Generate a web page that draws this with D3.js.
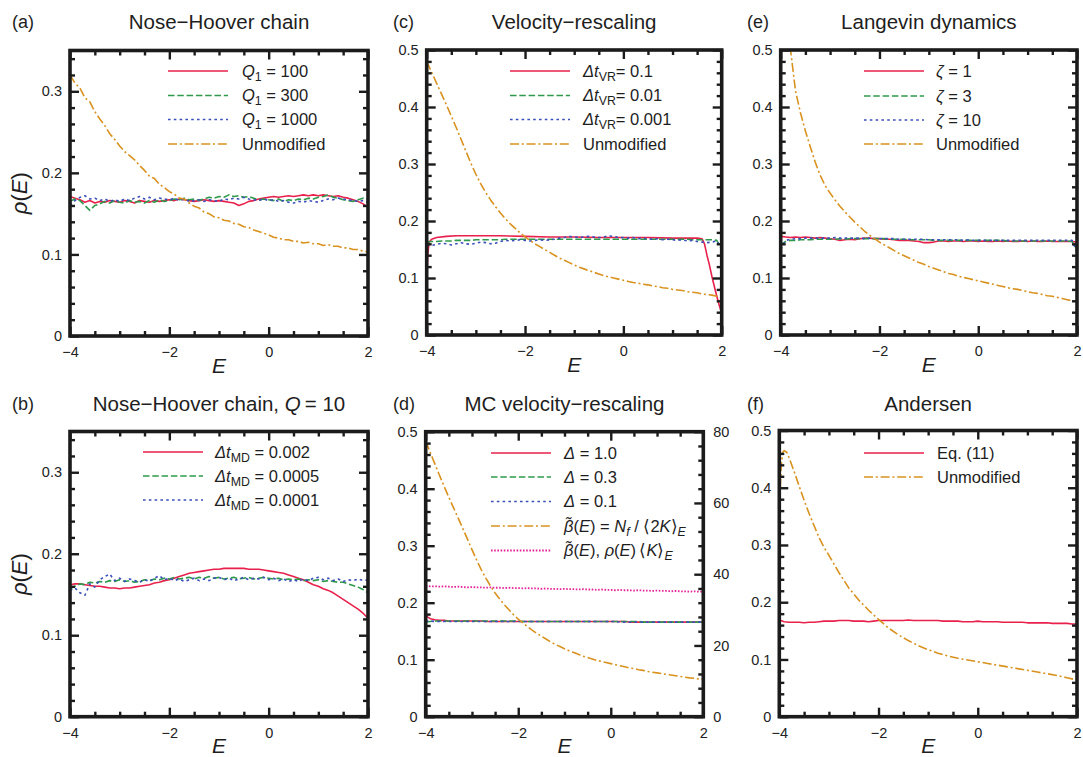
<!DOCTYPE html>
<html>
<head>
<meta charset="utf-8">
<script src="https://cdn.jsdelivr.net/npm/d3@7"></script>
<style>
  html, body { margin: 0; padding: 0; background: #fff; }
  svg { display: block; font-family: "Liberation Sans", Arial, Helvetica, sans-serif; }
</style>
</head>
<body>
<script>
// ---------- energy grid and tick values ----------
const E_GRID = [-4.0,-3.9,-3.8,-3.7,-3.6,-3.5,-3.4,-3.3,-3.2,-3.1,
  -3.0,-2.9,-2.8,-2.7,-2.6,-2.5,-2.4,-2.3,-2.2,-2.1,
  -2.0,-1.9,-1.8,-1.7,-1.6,-1.5,-1.4,-1.3,-1.2,-1.1,
  -1.0,-0.9,-0.8,-0.7,-0.6,-0.5,-0.4,-0.3,-0.2,-0.1,
  0.0,0.1,0.2,0.3,0.4,0.5,0.6,0.7,0.8,0.9,
  1.0,1.1,1.2,1.3,1.4,1.5,1.6,1.7,1.8,1.9,2.0];

const X_MAJOR = [-4, -2, 0, 2];
const X_MINOR = [-3.5, -3, -2.5, -1.5, -1, -0.5, 0.5, 1, 1.5];
const Y_MAJOR_35 = [0, 0.1, 0.2, 0.3];
const Y_MAJOR_50 = [0, 0.1, 0.2, 0.3, 0.4, 0.5];
const Y_MINOR_35 = [0.02,0.04,0.06,0.08,0.12,0.14,0.16,0.18,0.22,0.24,0.26,0.28,0.32,0.34];
const Y_MINOR_50 = [0.02,0.04,0.06,0.08,0.12,0.14,0.16,0.18,0.22,0.24,0.26,0.28,0.32,0.34,0.36,0.38,0.42,0.44,0.46,0.48];
const Y2_MAJOR = [0, 20, 40, 60, 80];
const Y2_MINOR = [4,8,12,16,24,28,32,36,44,48,52,56,64,68,72,76];

// ---------- (a) Nose-Hoover chain ----------
const A_Q100 = [.171,.169,.167,.164,.166,.163,.165,.164,.166,.165,
  .164,.166,.165,.163,.166,.165,.164,.166,.165,.166,
  .167,.166,.168,.167,.166,.165,.166,.167,.166,.165,
  .166,.165,.164,.163,.160,.162,.165,.166,.168,.169,
  .170,.171,.170,.171,.172,.171,.172,.173,.172,.173,
  .172,.173,.172,.171,.172,.170,.169,.167,.165,.162,.158];
const A_Q300 = [.165,.168,.166,.160,.154,.160,.162,.165,.163,.166,
  .164,.163,.166,.164,.165,.163,.166,.164,.167,.165,
  .166,.168,.167,.169,.167,.168,.166,.168,.170,.169,
  .171,.170,.173,.171,.172,.170,.171,.169,.167,.168,
  .167,.166,.168,.165,.167,.166,.168,.167,.169,.168,
  .170,.171,.173,.170,.169,.167,.166,.165,.167,.169,.168];
const A_Q1000 = [.160,.166,.170,.172,.168,.169,.166,.168,.165,.167,
  .165,.168,.166,.169,.171,.168,.170,.167,.169,.168,
  .167,.169,.166,.168,.165,.166,.167,.165,.167,.166,
  .165,.168,.167,.169,.168,.170,.168,.167,.166,.168,
  .166,.167,.165,.166,.164,.163,.165,.164,.166,.165,
  .164,.166,.168,.167,.169,.168,.167,.166,.165,.166,.164];
const A_UNMOD = [.320,.310,.304,.292,.287,.275,.266,.258,.248,.241,
  .233,.226,.221,.216,.209,.203,.196,.193,.186,.182,
  .177,.174,.169,.168,.163,.159,.157,.152,.150,.146,
  .145,.142,.141,.138,.137,.134,.133,.130,.128,.126,
  .124,.121,.120,.118,.118,.116,.116,.114,.115,.113,
  .113,.111,.112,.110,.110,.108,.108,.106,.106,.104,.103];

// ---------- (b) Nose-Hoover chain, Q = 10 ----------
const B_MD002 = [.162,.163,.163,.162,.161,.160,.160,.159,.158,.158,
  .157,.158,.158,.159,.160,.161,.162,.164,.165,.167,
  .168,.170,.172,.174,.176,.177,.178,.179,.180,.181,
  .181,.182,.182,.182,.182,.182,.181,.181,.181,.180,
  .179,.178,.177,.176,.174,.172,.170,.168,.165,.162,
  .160,.157,.155,.152,.148,.144,.140,.136,.132,.127,.121];
const B_MD0005 = [.157,.160,.163,.162,.165,.164,.166,.165,.167,.166,
  .168,.166,.167,.165,.166,.168,.167,.169,.168,.170,
  .169,.171,.169,.170,.171,.169,.171,.170,.172,.170,
  .171,.169,.170,.171,.169,.170,.171,.169,.170,.171,
  .170,.169,.170,.168,.169,.168,.169,.167,.168,.167,
  .168,.166,.167,.166,.165,.165,.163,.161,.159,.156,.152];
const B_MD0001 = [.155,.158,.152,.149,.163,.159,.168,.172,.175,.167,
  .170,.166,.169,.167,.165,.168,.166,.170,.173,.168,
  .170,.167,.169,.166,.168,.170,.167,.169,.167,.170,
  .171,.168,.170,.167,.169,.171,.168,.170,.169,.171,
  .168,.170,.167,.169,.166,.168,.166,.169,.167,.170,
  .171,.168,.170,.167,.169,.166,.168,.167,.169,.167,.168];

// ---------- (c) Velocity-rescaling ----------
const C_VR01_E = [-4.0,-3.98,-3.95,-3.9,-3.8,-3.6,-3.4,-3.2,-3.0,-2.5,-2.0,-1.5,-1.0,-0.5,
  0.0,0.5,1.0,1.5,1.6,1.65,1.7,1.75,1.8,1.85,1.9,1.95,2.0];
const C_VR01 = [.090,.140,.163,.168,.171,.173,.174,.174,.174,.174,.173,.172,.172,.171,
  .171,.171,.170,.170,.169,.160,.140,.123,.103,.085,.068,.052,.038];
const C_VR001 = [.163,.164,.164,.165,.165,.165,.166,.166,.166,.166,
  .167,.167,.167,.167,.167,.167,.168,.168,.168,.168,
  .168,.168,.168,.168,.168,.168,.168,.168,.168,.168,
  .168,.168,.168,.168,.168,.168,.168,.168,.168,.168,
  .168,.168,.168,.168,.168,.168,.168,.168,.168,.168,
  .168,.168,.168,.168,.167,.167,.167,.167,.167,.166,.150];
const C_VR0001 = [.158,.157,.159,.161,.160,.158,.160,.162,.160,.159,
  .161,.163,.162,.160,.161,.164,.166,.165,.166,.167,
  .166,.165,.166,.167,.166,.167,.168,.170,.171,.173,
  .172,.171,.172,.173,.172,.171,.172,.174,.173,.171,
  .171,.170,.171,.169,.170,.169,.168,.169,.167,.168,
  .167,.166,.167,.165,.166,.164,.163,.162,.163,.165,.150];
const C_UNMOD = [.480,.461,.442,.423,.404,.384,.364,.343,.322,.301,
  .282,.265,.250,.237,.225,.214,.204,.195,.187,.179,
  .172,.166,.160,.155,.150,.145,.140,.135,.131,.127,
  .123,.119,.116,.113,.110,.107,.104,.102,.100,.098,
  .096,.094,.092,.091,.089,.088,.086,.085,.083,.082,
  .080,.079,.078,.076,.075,.074,.072,.071,.070,.068,.067];

// ---------- (d) MC velocity-rescaling (beta curves on the right axis) ----------
const D_D10 = [.177,.172,.170,.169,.169,.168,.168,.168,.168,.168,
  .168,.168,.168,.167,.167,.167,.167,.167,.167,.167,
  .167,.167,.167,.167,.167,.167,.167,.167,.167,.167,
  .167,.167,.167,.167,.167,.167,.167,.167,.167,.167,
  .167,.167,.167,.167,.166,.166,.166,.166,.166,.166,
  .166,.166,.166,.166,.166,.166,.166,.166,.166,.166,.166];
const D_D03 = [.166,.167,.168,.168,.168,.168,.168,.168,.168,.168,
  .168,.168,.168,.168,.168,.168,.168,.168,.168,.168,
  .168,.167,.167,.167,.167,.167,.167,.167,.167,.167,
  .167,.167,.167,.167,.167,.167,.167,.167,.167,.167,
  .167,.167,.167,.167,.167,.167,.167,.166,.166,.166,
  .166,.166,.166,.166,.166,.166,.166,.166,.166,.166,.166];
const D_D01 = [.168,.168,.167,.167,.167,.167,.167,.167,.167,.167,
  .167,.167,.167,.167,.167,.167,.167,.167,.167,.167,
  .167,.167,.167,.167,.167,.167,.167,.167,.167,.167,
  .167,.167,.167,.167,.167,.167,.167,.167,.167,.167,
  .167,.167,.166,.166,.166,.166,.166,.166,.166,.166,
  .166,.166,.166,.166,.166,.166,.166,.166,.166,.166,.166];
const D_BETA = [77.4,74.1,70.9,67.7,64.6,61.6,58.7,55.8,52.9,49.9,
  46.9,44.0,41.3,38.9,36.7,34.7,33.0,31.4,30.0,28.6,
  27.4,26.3,25.3,24.3,23.4,22.6,21.8,21.0,20.3,19.7,
  19.1,18.5,18.0,17.5,17.0,16.6,16.2,15.8,15.5,15.2,
  14.9,14.6,14.3,14.0,13.7,13.5,13.2,13.0,12.7,12.5,
  12.3,12.1,11.9,11.7,11.5,11.3,11.1,10.9,10.8,10.6,10.5];
const D_RHOK = [36.7,36.6,36.6,36.5,36.6,36.5,36.4,36.5,36.4,36.3,
  36.4,36.3,36.3,36.2,36.3,36.2,36.2,36.1,36.2,36.1,
  36.1,36.0,36.1,36.0,36.0,35.9,36.0,35.9,35.9,35.8,
  35.9,35.8,35.8,35.7,35.8,35.7,35.7,35.6,35.7,35.6,
  35.6,35.5,35.6,35.5,35.5,35.4,35.5,35.4,35.4,35.3,
  35.4,35.3,35.3,35.2,35.3,35.2,35.2,35.1,35.2,35.1,35.1];

// ---------- (e) Langevin dynamics ----------
const E_Z1 = [.173,.172,.171,.172,.171,.172,.171,.170,.171,.170,
  .169,.168,.166,.167,.168,.167,.169,.170,.170,.169,
  .169,.168,.168,.167,.166,.166,.166,.165,.164,.162,
  .162,.163,.165,.165,.164,.165,.165,.164,.165,.165,
  .164,.165,.164,.164,.165,.164,.165,.164,.164,.165,
  .164,.165,.164,.164,.165,.164,.164,.164,.164,.164,.163];
const E_Z3 = [.158,.164,.166,.166,.167,.167,.167,.168,.168,.168,
  .168,.168,.169,.168,.169,.169,.169,.169,.169,.169,
  .169,.169,.168,.168,.168,.168,.167,.167,.167,.167,
  .167,.166,.166,.166,.166,.166,.166,.166,.166,.166,
  .166,.166,.166,.166,.166,.166,.165,.165,.165,.165,
  .165,.165,.165,.165,.165,.165,.165,.165,.165,.164,.150];
const E_Z10 = [.150,.166,.168,.169,.169,.170,.170,.170,.170,.170,
  .170,.171,.170,.170,.170,.170,.170,.169,.170,.169,
  .169,.169,.169,.169,.168,.168,.168,.168,.168,.168,
  .167,.167,.167,.167,.167,.167,.167,.166,.167,.166,
  .166,.166,.166,.166,.166,.166,.166,.166,.166,.166,
  .166,.166,.166,.166,.166,.166,.166,.166,.166,.166,.145];
const E_UNMOD = [.680,.580,.500,.428,.390,.358,.330,.303,.280,.262,
  .249,.237,.226,.216,.207,.198,.190,.182,.175,.169,
  .163,.158,.153,.148,.143,.139,.135,.131,.127,.124,
  .120,.117,.114,.111,.108,.106,.103,.101,.099,.097,
  .095,.093,.091,.089,.087,.085,.083,.081,.080,.078,
  .076,.074,.073,.071,.069,.068,.066,.064,.062,.060,.058];

// ---------- (f) Andersen ----------
const F_EQ11 = [.169,.166,.165,.165,.165,.164,.165,.165,.166,.167,
  .167,.167,.168,.168,.168,.167,.167,.167,.166,.167,
  .168,.168,.168,.168,.168,.168,.169,.168,.168,.168,
  .168,.168,.168,.167,.167,.167,.167,.166,.166,.166,
  .167,.166,.166,.166,.166,.165,.165,.165,.165,.165,
  .164,.164,.164,.164,.164,.163,.163,.163,.163,.162,.162];
const F_UNMOD_E = [-3.98,-3.96,-3.93,-3.9,-3.85,-3.8,-3.7,-3.6,-3.5,-3.4,-3.3,-3.2,-3.1,-3.0,
  -2.8,-2.6,-2.4,-2.2,-2.0,-1.8,-1.6,-1.4,-1.2,-1.0,-0.8,-0.6,-0.4,-0.2,
  0.0,0.2,0.4,0.6,0.8,1.0,1.2,1.4,1.6,1.8,2.0];
const F_UNMOD = [.400,.440,.462,.465,.462,.452,.428,.403,.378,.355,.334,.313,.296,.282,
  .252,.225,.204,.186,.170,.155,.143,.133,.124,.117,.111,.106,.102,.099,
  .096,.093,.090,.087,.084,.081,.078,.075,.072,.068,.064];

// ---------- legend texts: [text, style] segments ----------
const A_LABELS = [
  [["Q","i"],["1","sub"],[" = 100",""]],
  [["Q","i"],["1","sub"],[" = 300",""]],
  [["Q","i"],["1","sub"],[" = 1000",""]],
  [["Unmodified",""]]];
const B_LABELS = [
  [["\u0394t","i"],["MD","sub"],[" = 0.002",""]],
  [["\u0394t","i"],["MD","sub"],[" = 0.0005",""]],
  [["\u0394t","i"],["MD","sub"],[" = 0.0001",""]]];
const C_LABELS = [
  [["\u0394t","i"],["VR","sub"],["= 0.1",""]],
  [["\u0394t","i"],["VR","sub"],["= 0.01",""]],
  [["\u0394t","i"],["VR","sub"],["= 0.001",""]],
  [["Unmodified",""]]];
const D_LABELS = [
  [["\u0394","i"],[" = 1.0",""]],
  [["\u0394","i"],[" = 0.3",""]],
  [["\u0394","i"],[" = 0.1",""]],
  [["\u03B2\u0303","i"],["(",""],["E","i"],[") = ",""],["N","i"],["f","subi"],[" / \u27E82",""],["K","i"],["\u27E9",""],["E","subi"]],
  [["\u03B2\u0303","i"],["(",""],["E","i"],["), ",""],["\u03C1","i"],["(",""],["E","i"],[")\u2009\u27E8",""],["K","i"],["\u27E9",""],["E","subi"]]];
const E_LABELS = [
  [["\u03B6","i"],[" = 1",""]],
  [["\u03B6","i"],[" = 3",""]],
  [["\u03B6","i"],[" = 10",""]],
  [["Unmodified",""]]];
const F_LABELS = [
  [["Eq. (11)",""]],
  [["Unmodified",""]]];

// ---------- styles ----------
const STYLES = {
  red:    { color: "#e8204b", dash: null },
  green:  { color: "#2f9a4c", dash: "6.5,2.8" },
  blue:   { color: "#3c4fb8", dash: "2.6,3.2" },
  orange: { color: "#d8921f", dash: "9,2.8,2,2.8" },
  pink:   { color: "#e4239a", dash: "1.6,1.6" }
};

const W = 1083, H = 757;
const svg = d3.select("body").append("svg").attr("width", W).attr("height", H);
const INK = "#1b1b1b";

function richText(sel, segments, size) {
  let shift = 0;
  segments.forEach(([txt, st]) => {
    const sub = st === "sub" || st === "subi";
    const target = sub ? size * 0.27 : 0;
    sel.append("tspan").text(txt)
      .attr("dy", (target - shift).toFixed(2))
      .attr("font-size", sub ? size * 0.75 : size)
      .attr("font-style", (st === "i" || st === "subi") ? "italic" : "normal");
    shift = target;
  });
}

function drawPanel(p) {
  const x = d3.scaleLinear().domain([-4, 2]).range([p.left, p.right]);
  const y = d3.scaleLinear().domain([0, p.yMax]).range([p.bottom, p.top]);
  const y2 = p.right2 ? d3.scaleLinear().domain([0, 80]).range([p.bottom, p.top]) : null;
  const g = svg.append("g");

  const clipId = "clip-" + p.id;
  svg.append("clipPath").attr("id", clipId).append("rect")
    .attr("x", p.left).attr("y", p.top)
    .attr("width", p.right - p.left).attr("height", p.bottom - p.top);

  // data curves
  const lines = g.append("g").attr("clip-path", `url(#${clipId})`);
  p.series.forEach(s => {
    const sc = s.axis2 ? y2 : y;
    const st = STYLES[s.style];
    const pts = s.e.map((e, i) => [e, s.v[i]]);
    lines.append("path").datum(pts)
      .attr("d", d3.line().x(d => x(d[0])).y(d => sc(d[1])))
      .attr("fill", "none")
      .attr("stroke", st.color)
      .attr("stroke-width", s.style === "pink" ? 1.8 : 1.6)
      .attr("stroke-linejoin", "round")
      .attr("stroke-dasharray", st.dash);
  });

  // ticks (inward on all four sides)
  const tickStyle = sel => {
    sel.select(".domain").remove();
    sel.selectAll(".tick line").attr("stroke", INK).attr("stroke-width", 2.4);
    sel.selectAll(".tick text").attr("fill", "#222").attr("font-size", 14.5)
      .attr("font-family", "Liberation Sans, Arial, sans-serif");
  };
  const fmtX = d => (d < 0 ? "\u2212" + Math.abs(d) : String(d));
  const fmtY = d => (d === 0 ? "0" : d3.format(".1f")(d));

  g.append("g").attr("transform", `translate(0,${p.bottom})`)
    .call(d3.axisBottom(x).tickValues(X_MAJOR).tickSize(-9).tickPadding(11).tickFormat(fmtX)).call(tickStyle);
  g.append("g").attr("transform", `translate(0,${p.bottom})`)
    .call(d3.axisBottom(x).tickValues(X_MINOR).tickSize(-5).tickFormat("")).call(tickStyle);
  g.append("g").attr("transform", `translate(0,${p.top})`)
    .call(d3.axisTop(x).tickValues(X_MAJOR).tickSize(-9).tickFormat("")).call(tickStyle);
  g.append("g").attr("transform", `translate(0,${p.top})`)
    .call(d3.axisTop(x).tickValues(X_MINOR).tickSize(-5).tickFormat("")).call(tickStyle);

  const yMaj = p.yMax > 0.4 ? Y_MAJOR_50 : Y_MAJOR_35;
  const yMin = p.yMax > 0.4 ? Y_MINOR_50 : Y_MINOR_35;
  g.append("g").attr("transform", `translate(${p.left},0)`)
    .call(d3.axisLeft(y).tickValues(yMaj).tickSize(-9).tickPadding(8).tickFormat(fmtY)).call(tickStyle);
  g.append("g").attr("transform", `translate(${p.left},0)`)
    .call(d3.axisLeft(y).tickValues(yMin).tickSize(-5).tickFormat("")).call(tickStyle);
  if (y2) {
    g.append("g").attr("transform", `translate(${p.right},0)`)
      .call(d3.axisRight(y2).tickValues(Y2_MAJOR).tickSize(-9).tickPadding(10).tickFormat(d3.format("d"))).call(tickStyle);
    g.append("g").attr("transform", `translate(${p.right},0)`)
      .call(d3.axisRight(y2).tickValues(Y2_MINOR).tickSize(-5).tickFormat("")).call(tickStyle);
  } else {
    g.append("g").attr("transform", `translate(${p.right},0)`)
      .call(d3.axisRight(y).tickValues(yMaj).tickSize(-9).tickFormat("")).call(tickStyle);
    g.append("g").attr("transform", `translate(${p.right},0)`)
      .call(d3.axisRight(y).tickValues(yMin).tickSize(-5).tickFormat("")).call(tickStyle);
  }

  // frame
  g.append("rect").attr("x", p.left).attr("y", p.top)
    .attr("width", p.right - p.left).attr("height", p.bottom - p.top)
    .attr("fill", "none").attr("stroke", INK).attr("stroke-width", 3.6);

  // legend
  p.series.forEach((s, i) => {
    const st = STYLES[s.style];
    const ly = p.legend.rows[i];
    g.append("line").attr("x1", p.legend.x1).attr("x2", p.legend.x1 + 60)
      .attr("y1", ly).attr("y2", ly)
      .attr("stroke", st.color).attr("stroke-width", s.style === "pink" ? 1.8 : 1.6)
      .attr("stroke-dasharray", st.dash);
    const t = g.append("text").attr("x", p.legend.tx).attr("y", ly + 5.5)
      .attr("fill", "#1e1e1e").attr("font-size", 16.5);
    richText(t, p.labels[i], 16.5);
  });

  // titles and axis names
  const cx = (p.left + p.right) / 2;
  const title = g.append("text").attr("x", cx).attr("y", p.titleY)
    .attr("text-anchor", "middle").attr("font-size", 20.5).attr("fill", "#1e1e1e");
  richText(title, p.title, 20.5);
  g.append("text").attr("x", p.tagX).attr("y", p.titleY - 1)
    .attr("font-size", 18).attr("fill", "#1e1e1e").text(p.tag);

  g.append("text").attr("x", cx).attr("y", p.bottom + 36.5)
    .attr("text-anchor", "middle").attr("font-size", 21)
    .attr("font-style", "italic").attr("fill", "#1e1e1e").text("E");

  if (p.yTitle) {
    const yt = g.append("text")
      .attr("transform", `translate(27,${(p.top + p.bottom) / 2}) rotate(-90)`)
      .attr("text-anchor", "middle").attr("dy", "0.35em")
      .attr("font-size", 22).attr("fill", "#1e1e1e");
    richText(yt, [["\u03C1","i"],["(",""],["E","i"],[")",""]], 22);
  }
}

const panels = [
  { id: "a", tag: "(a)", tagX: 12, titleY: 29, title: [["Nose\u2212Hoover chain",""]],
    left: 70, right: 368, top: 50.5, bottom: 336, yMax: 0.35, yTitle: true,
    series: [
      { e: E_GRID, v: A_Q100, style: "red" },
      { e: E_GRID, v: A_Q300, style: "green" },
      { e: E_GRID, v: A_Q1000, style: "blue" },
      { e: E_GRID, v: A_UNMOD, style: "orange" }],
    labels: A_LABELS, legend: { x1: 168, tx: 242, rows: [71, 95.5, 119.5, 144] } },
  { id: "b", tag: "(b)", tagX: 12, titleY: 411, title: [["Nose\u2212Hoover chain, ",""],["Q","i"],["\u2009= 10",""]],
    left: 70, right: 368, top: 431.5, bottom: 716.7, yMax: 0.35, yTitle: true,
    series: [
      { e: E_GRID, v: B_MD002, style: "red" },
      { e: E_GRID, v: B_MD0005, style: "green" },
      { e: E_GRID, v: B_MD0001, style: "blue" }],
    labels: B_LABELS, legend: { x1: 143, tx: 215, rows: [452, 476, 500] } },
  { id: "c", tag: "(c)", tagX: 393, titleY: 29, title: [["Velocity\u2212rescaling",""]],
    left: 426.7, right: 721.7, top: 50, bottom: 335, yMax: 0.5,
    series: [
      { e: C_VR01_E, v: C_VR01, style: "red" },
      { e: E_GRID, v: C_VR001, style: "green" },
      { e: E_GRID, v: C_VR0001, style: "blue" },
      { e: E_GRID, v: C_UNMOD, style: "orange" }],
    labels: C_LABELS, legend: { x1: 510, tx: 583, rows: [71, 95.5, 119.5, 144] } },
  { id: "d", tag: "(d)", tagX: 393, titleY: 411, title: [["MC velocity\u2212rescaling",""]],
    left: 425.7, right: 703.3, top: 431.7, bottom: 716.7, yMax: 0.5, right2: true,
    series: [
      { e: E_GRID, v: D_D10, style: "red" },
      { e: E_GRID, v: D_D03, style: "green" },
      { e: E_GRID, v: D_D01, style: "blue" },
      { e: E_GRID, v: D_BETA, style: "orange", axis2: true },
      { e: E_GRID, v: D_RHOK, style: "pink", axis2: true }],
    labels: D_LABELS, legend: { x1: 491, tx: 564, rows: [453, 477, 501.5, 526, 550.5] } },
  { id: "e", tag: "(e)", tagX: 747, titleY: 29, title: [["Langevin dynamics",""]],
    left: 780.7, right: 1077, top: 50, bottom: 335, yMax: 0.5,
    series: [
      { e: E_GRID, v: E_Z1, style: "red" },
      { e: E_GRID, v: E_Z3, style: "green" },
      { e: E_GRID, v: E_Z10, style: "blue" },
      { e: E_GRID, v: E_UNMOD, style: "orange" }],
    labels: E_LABELS, legend: { x1: 864, tx: 936, rows: [71, 96, 120, 144] } },
  { id: "f", tag: "(f)", tagX: 747, titleY: 411, title: [["Andersen",""]],
    left: 779.3, right: 1077, top: 430.5, bottom: 716.7, yMax: 0.5,
    series: [
      { e: E_GRID, v: F_EQ11, style: "red" },
      { e: F_UNMOD_E, v: F_UNMOD, style: "orange" }],
    labels: F_LABELS, legend: { x1: 864, tx: 937, rows: [453, 477] } }
];

panels.forEach(drawPanel);
</script>
</body>
</html>
